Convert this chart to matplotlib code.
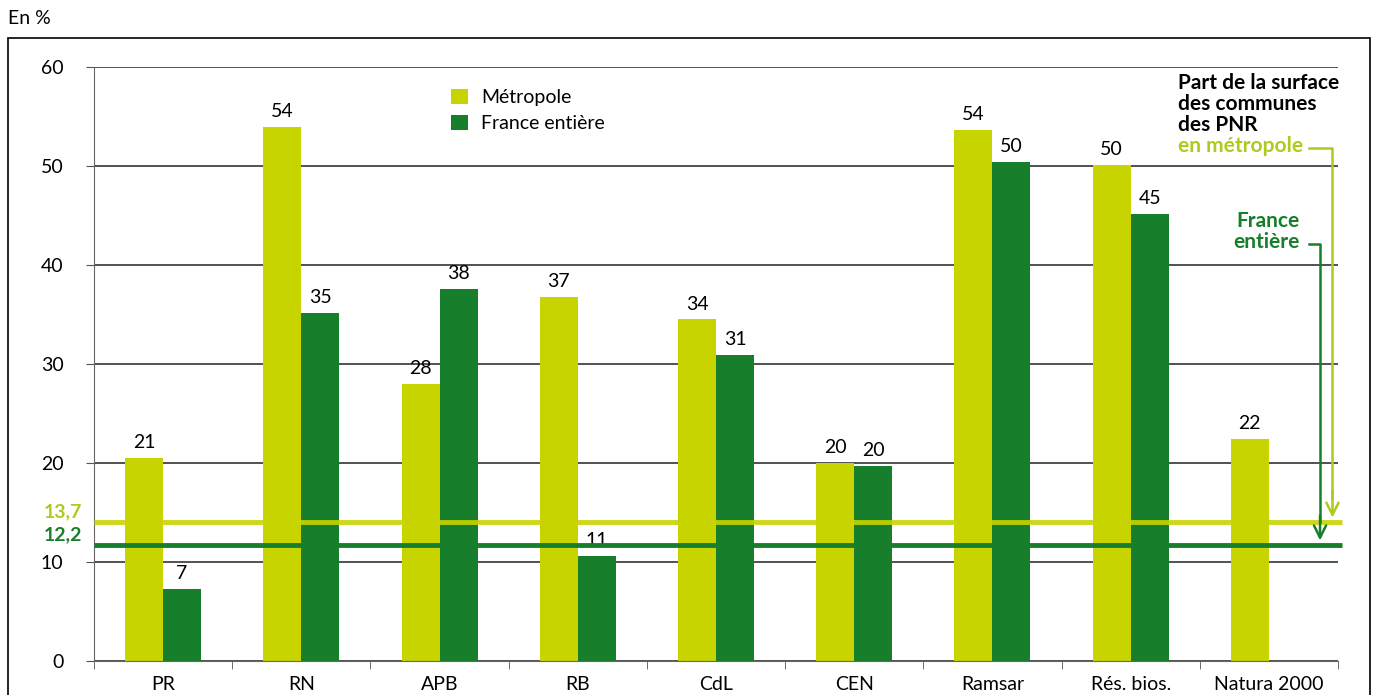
import matplotlib.pyplot as plt
import numpy as np
from matplotlib.patches import Rectangle

plt.rcParams['font.family'] = ['Lato', 'DejaVu Sans']

CATEGORIES = ["PR", "RN", "APB", "RB", "CdL", "CEN", "Ramsar", "Rés. bios.", "Natura 2000"]
METROPOLE = [20.5, 53.9, 28.0, 36.8, 34.5, 20.0, 53.6, 50.1, 22.4]
FRANCE = [7.3, 35.2, 37.6, 10.6, 30.9, 19.7, 50.4, 45.2, np.nan]
METRO_LABELS = ["21", "54", "28", "37", "34", "20", "54", "50", "22"]
FRANCE_LABELS = ["7", "35", "38", "11", "31", "20", "50", "45", ""]
# reference lines: label text and where they are drawn in the original
REF_METRO_TXT, REF_METRO = "13,7", 14.0
REF_FRANCE_TXT, REF_FRANCE = "12,2", 11.7

LIGHT = "#c8d400"
DARK = "#177e2c"
LIGHT_TXT = "#b0c91c"
FS = 14
FS_NOTE = 15

fig = plt.figure(figsize=(13.77, 6.95), dpi=100)
ax = fig.add_axes([94 / 1377, 34 / 695, 1244 / 1377, 594 / 695])

x = np.arange(len(CATEGORIES))
w = 0.275
ax.bar(x - w / 2, METROPOLE, w, color=LIGHT, zorder=2)
ax.bar(x + w / 2, FRANCE, w, color=DARK, zorder=2)

for i in range(len(CATEGORIES)):
    ax.annotate(METRO_LABELS[i], (x[i] - w / 2, METROPOLE[i]), xytext=(0, 5),
                textcoords="offset points", ha="center", va="bottom", fontsize=FS)
    if FRANCE_LABELS[i]:
        ax.annotate(FRANCE_LABELS[i], (x[i] + w / 2, FRANCE[i]), xytext=(0, 5),
                    textcoords="offset points", ha="center", va="bottom", fontsize=FS)

ax.set_xlim(-0.5, len(CATEGORIES) - 0.5)
ax.set_ylim(0, 60)
ax.set_yticks(np.arange(0, 61, 10))
ax.tick_params(axis="y", labelsize=FS, length=6, color="#555555", pad=16)
ax.yaxis.grid(True, color="#333333", linewidth=1.2, zorder=0)
ax.set_axisbelow(True)

ax.set_xticks(x)
ax.set_xticklabels(CATEGORIES, fontsize=FS)
ax.set_xticks(np.arange(-0.5, len(CATEGORIES), 1), minor=True)
ax.tick_params(axis="x", which="major", length=0, pad=11)
ax.tick_params(axis="x", which="minor", length=6, color="#555555")

for s in ["top", "right"]:
    ax.spines[s].set_visible(False)
ax.spines["left"].set_color("#666666")
ax.spines["bottom"].set_color("#666666")

# reference lines
xr = len(CATEGORIES) - 0.5 + 0.03
ax.plot([-0.5, xr], [REF_METRO, REF_METRO], color=LIGHT, lw=3.5, alpha=0.9,
        zorder=3, clip_on=False, solid_capstyle="butt")
ax.plot([-0.5, xr], [REF_FRANCE, REF_FRANCE], color=DARK, lw=3.5, zorder=3,
        clip_on=False, solid_capstyle="butt")
ax.text(-0.585, REF_METRO + 0.2, REF_METRO_TXT, color=LIGHT_TXT, fontsize=FS,
        fontweight="bold", ha="right", va="bottom")
ax.text(-0.585, REF_FRANCE + 0.15, REF_FRANCE_TXT, color=DARK, fontsize=FS,
        fontweight="bold", ha="right", va="bottom")

# annotation text, one line at a time
note_lines = ["Part de la surface", "des communes", "des PNR"]
for k, line in enumerate(note_lines):
    ax.text(7.34, 58.4 - 2.12 * k, line, fontsize=FS_NOTE, fontweight="bold",
            ha="left", va="center")
ax.text(7.34, 58.4 - 2.12 * 3, "en métropole", fontsize=FS_NOTE, fontweight="bold",
        color=LIGHT_TXT, ha="left", va="center")
ax.text(8.225, 44.4, "France", fontsize=FS_NOTE, fontweight="bold",
        color=DARK, ha="right", va="center")
ax.text(8.225, 42.3, "entière", fontsize=FS_NOTE, fontweight="bold",
        color=DARK, ha="right", va="center")

# arrows
ax.plot([8.29, 8.46, 8.46], [51.8, 51.8, 16.5], color=LIGHT_TXT, lw=1.8,
        clip_on=False, zorder=4)
ax.annotate("", xy=(8.46, REF_METRO + 0.2), xytext=(8.46, 17.5),
            arrowprops=dict(arrowstyle="->", color=LIGHT_TXT, lw=1.8,
                            mutation_scale=22), annotation_clip=False)
ax.plot([8.29, 8.37, 8.37], [42.1, 42.1, 14.0], color=DARK, lw=1.8,
        clip_on=False, zorder=4)
ax.annotate("", xy=(8.37, REF_FRANCE + 0.2), xytext=(8.37, 15.0),
            arrowprops=dict(arrowstyle="->", color=DARK, lw=1.8,
                            mutation_scale=22), annotation_clip=False)

# legend
ax.bar([np.nan], [0], color=LIGHT, label="Métropole")
ax.bar([np.nan], [0], color=DARK, label="France entière")
ax.legend(loc="upper left", bbox_to_anchor=(0.273, 0.993), frameon=False,
          fontsize=FS, handlelength=0.85, handleheight=0.85, labelspacing=0.45,
          handletextpad=0.7)

# outer frame
fig.patches.append(Rectangle((8 / 1377, -0.05), 1362 / 1377, (695 - 38) / 695 + 0.05,
                             transform=fig.transFigure, fill=False,
                             edgecolor="black", lw=1.2))
fig.text(8 / 1377, 1 - 18 / 695, "En %", fontsize=FS, ha="left", va="center")

fig.savefig("out.png", dpi=100)
